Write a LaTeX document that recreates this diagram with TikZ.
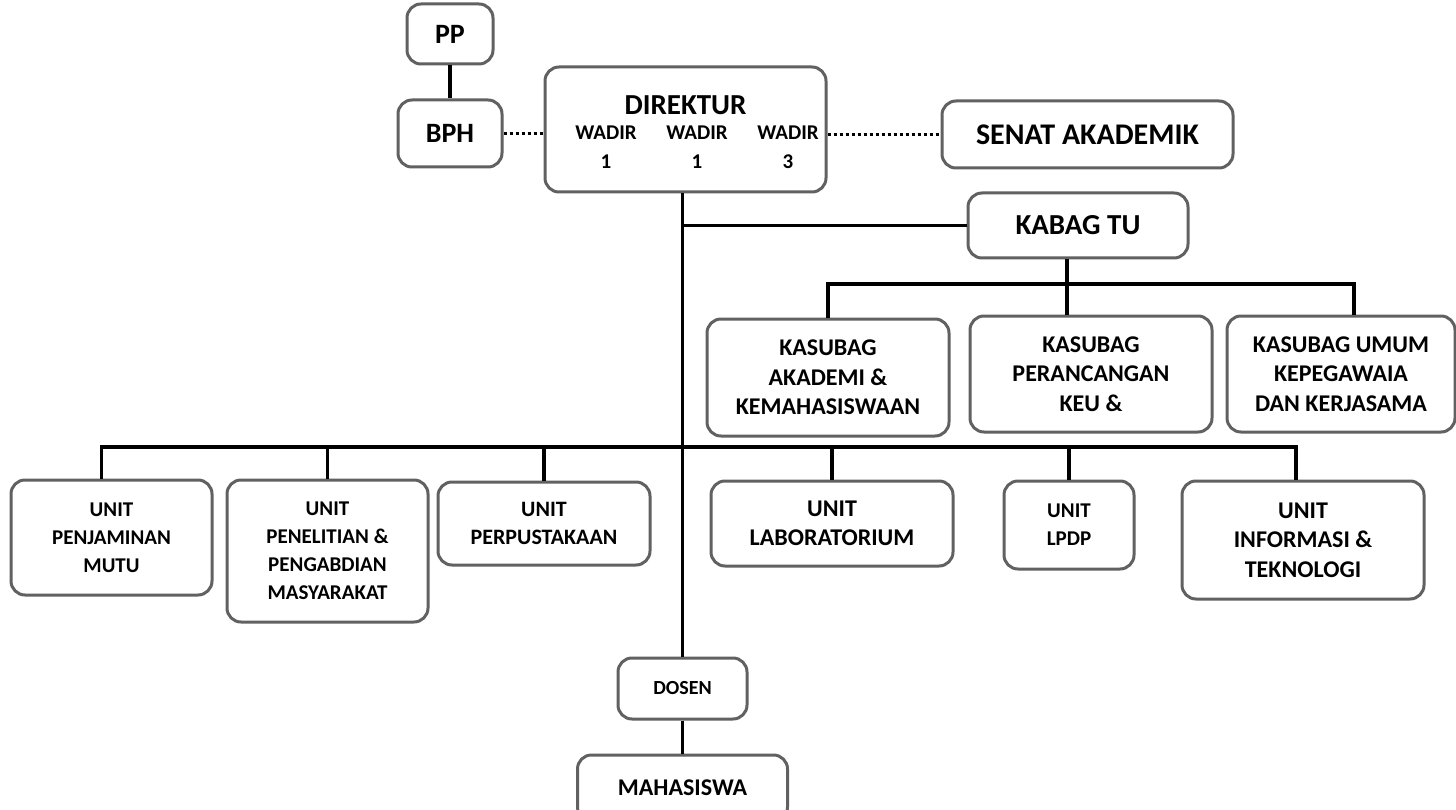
\documentclass[tikz,border=0pt]{standalone}
\usepackage{fontspec}
\setmainfont{Carlito}
\usetikzlibrary{positioning,calc}

\begin{document}
\begin{tikzpicture}[x=1pt, y=-1pt,
  box/.style={draw=black!62, line width=3pt, rounded corners=14pt, fill=white,
              align=center, inner sep=0pt},
  big/.style={box, font=\fontsize{28}{32}\selectfont\bfseries},
  mid/.style={box, font=\fontsize{24}{29.5}\selectfont\bfseries},
  sml/.style={box, font=\fontsize{21}{28}\selectfont\bfseries},
  lbl/.style={align=center, inner sep=0pt},
  conn/.style={line width=3.5pt},
  dots/.style={line width=3.5pt, dash pattern=on 3pt off 3pt},
]
  \clip (0,0) rectangle (1456,810);

  % top level
  \node[big, minimum width=104, minimum height=67] (bph) at (450,133.5) {BPH};
  \node[big, minimum width=86, minimum height=60, above=33pt of bph] (pp) {PP};
  \node[box, minimum width=281, minimum height=125] (dir) at (685.5,129.5) {};
  \node[lbl, font=\fontsize{29}{32}\selectfont\bfseries] (dirttl) at (685.5,105) {DIREKTUR};
  \node[lbl, font=\fontsize{21}{29}\selectfont\bfseries] (wd1) at (606,147.5) {WADIR\\1};
  \node[lbl, font=\fontsize{21}{29}\selectfont\bfseries] (wd2) at (697,147.5) {WADIR\\1};
  \node[lbl, font=\fontsize{21}{29}\selectfont\bfseries] (wd3) at (788,147.5) {WADIR\\3};
  \node[big, font=\fontsize{30}{32}\selectfont\bfseries, minimum width=291, minimum height=67] (senat) at (1087.5,134.5) {SENAT AKADEMIK};

  % tata usaha
  \node[big, font=\fontsize{29}{32}\selectfont\bfseries, minimum width=220, minimum height=65] (kabag) at (1078,225.5) {KABAG TU};
  \node[mid, minimum width=242, minimum height=117] (ksakad) at (828,377.5) {KASUBAG\\AKADEMI \&\\KEMAHASISWAAN};
  \node[mid, minimum width=242, minimum height=116] (ksrenc) at (1091,374) {KASUBAG\\PERANCANGAN\\KEU \&};
  \node[mid, minimum width=228, minimum height=116] (ksumum) at (1341,374) {KASUBAG UMUM\\KEPEGAWAIA\\DAN KERJASAMA};

  % unit
  \node[sml, minimum width=201, minimum height=115] (pmutu) at (111.5,537.5) {UNIT\\PENJAMINAN\\MUTU};
  \node[sml, minimum width=201, minimum height=142] (penel) at (327.5,551) {UNIT\\PENELITIAN \&\\PENGABDIAN\\MASYARAKAT};
  \node[sml, font=\fontsize{22}{28}\selectfont\bfseries, minimum width=212, minimum height=83] (perpus) at (544,523.5) {UNIT\\PERPUSTAKAAN};
  \node[mid, minimum width=242, minimum height=85] (lab) at (832,523.5) {UNIT\\LABORATORIUM};
  \node[sml, minimum width=130, minimum height=88] (lpdp) at (1069,525) {UNIT\\LPDP};
  \node[mid, minimum width=242, minimum height=118] (info) at (1303,540) {UNIT\\INFORMASI \&\\TEKNOLOGI};

  \node[sml, font=\fontsize{20}{28}\selectfont\bfseries, minimum width=129, minimum height=61] (dosen) at (682.5,688.5) {DOSEN};
  \node[mid, minimum width=210, minimum height=66, below=33pt of dosen] (mhs) {MAHASISWA};

  \coordinate (kbar) at (0,284);
  \coordinate (ubar) at (0,447);

  \draw[conn] (pp) -- (bph);
  \draw[dots] (bph.east) -- (bph.east -| dir.west);
  \draw[dots] (senat.west -| dir.east) -- (senat.west);
  \draw[conn] (dosen.north |- dir.south) -- (dosen.north);
  \draw[conn] (dosen.north |- kabag.west) -- (kabag.west);
  \draw[conn] (dosen.south) -- (dosen.south |- mhs.north);

  \draw[conn] ([xshift=-11pt]kabag.south) -- ([xshift=-11pt]kabag.south |- ksrenc.north);
  \draw[conn] (ksakad.north) |- ([xshift=13pt]ksumum.north |- kbar) -- ([xshift=13pt]ksumum.north);

  \draw[conn] ([xshift=-10pt]pmutu.north) |- ([xshift=-7pt]info.north |- ubar) -- ([xshift=-7pt]info.north);
  \foreach \u in {penel,perpus,lab,lpdp}
    \draw[conn] (\u.north) -- (\u.north |- ubar);
\end{tikzpicture}
\end{document}
